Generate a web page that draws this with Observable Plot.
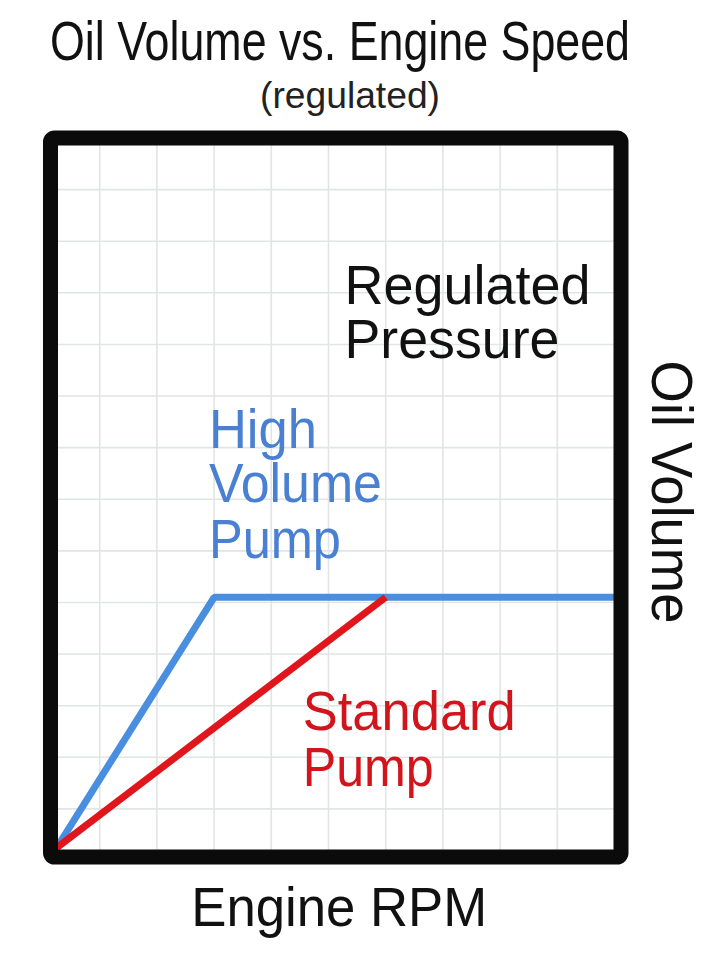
<!DOCTYPE html>
<html><head><meta charset="utf-8">
<script src="https://cdn.jsdelivr.net/npm/d3@7"></script>
<script src="https://cdn.jsdelivr.net/npm/@observablehq/plot@0.6"></script>
<style>
body{margin:0;background:#fff;font-family:"Liberation Sans",Arial,sans-serif;}
#header{position:relative;width:720px;height:120px;overflow:hidden;}
#header span{position:absolute;white-space:nowrap;transform-origin:0 0;}
#title{font-size:56px;line-height:56px;top:12.6px;color:#111;}
#subtitle{font-size:36px;line-height:36px;top:77.5px;color:#222;}
#chart svg{display:block}
</style></head><body>
<div id="header"><span id="title">Oil Volume vs. Engine Speed</span><span id="subtitle">(regulated)</span></div>
<div id="chart"></div>
<script>
// ---- data (arbitrary grid units: RPM along x, oil volume along y) ----
const seriesNames = ["High Volume Pump", "Standard Pump"];
const highRpm = [0.25, 3, 10];
const highVol = [0.25, 5.1, 5.1];
const stdRpm = [0.25, 6];
const stdVol = [0.25, 5.1];
const gridXTicks = [1, 2, 3, 4, 5, 6, 7, 8, 9];
const gridYTicks = [1, 2, 3, 4, 5, 6, 7, 8, 9, 10, 11, 12, 13];

const highData = highRpm.map((r, i) => ({rpm: r, vol: highVol[i], series: seriesNames[0]}));
const stdData = stdRpm.map((r, i) => ({rpm: r, vol: stdVol[i], series: seriesNames[1]}));

const BLUE = "#4a8ee0", RED = "#e0161c", BLUE_T = "#4a80d2", RED_T = "#d2141c", BLACK = "#111";

const annotations = [
  {text: "Regulated", x: 5.28, y: 10.79, color: BLACK, fs: 55, rot: 0, len: 246},
  {text: "Pressure", x: 5.28, y: 9.73, color: BLACK, fs: 55, rot: 0, len: 215},
  {text: "High", x: 2.91, y: 8.0, color: BLUE_T, fs: 55, rot: 0, len: 108},
  {text: "Volume", x: 2.91, y: 6.94, color: BLUE_T, fs: 55, rot: 0, len: 173},
  {text: "Pump", x: 2.91, y: 5.87, color: BLUE_T, fs: 55, rot: 0, len: 132},
  {text: "Standard", x: 4.55, y: 2.52, color: RED_T, fs: 55, rot: 0, len: 213},
  {text: "Pump", x: 4.55, y: 1.45, color: RED_T, fs: 55, rot: 0, len: 131},
  {text: "Engine RPM", x: 2.6, y: -1.26, color: BLACK, fs: 55, rot: 0, len: 296},
  {text: "Oil Volume", x: 10.66, y: 9.69, color: BLACK, fs: 58, rot: 90, len: 263}
];

const chart = Plot.plot({
  width: 720, height: 843,
  marginTop: 17.5, marginBottom: 106.5, marginLeft: 50, marginRight: 99.5,
  x: {domain: [0, 10], range: [42, 614], axis: null},
  y: {domain: [0, 14], range: [740, 17.5], axis: null},
  color: {type: "identity"},
  marks: [
    Plot.ruleX(gridXTicks, {stroke: "#e1e5e5", strokeWidth: 1.6}),
    Plot.ruleY(gridYTicks, {stroke: "#e1e5e5", strokeWidth: 1.6}),
    Plot.line(highData, {x: "rpm", y: "vol", stroke: BLUE, strokeWidth: 7, strokeLinejoin: "miter", strokeLinecap: "butt"}),
    Plot.line(stdData, {x: "rpm", y: "vol", stroke: RED, strokeWidth: 7, strokeLinejoin: "miter", strokeLinecap: "butt"}),
    Plot.frame({stroke: "#0b0b0b", strokeWidth: 15, rx: 4}),
    Plot.text(annotations, {
      x: "x", y: "y", text: "text", fill: "color", fontSize: "fs", rotate: "rot",
      textAnchor: "start", lineAnchor: "bottom",
      fontFamily: "Liberation Sans, Arial, sans-serif"
    })
  ]
});
document.getElementById("chart").appendChild(chart);

// condense labels to the reference's narrow lettering
const texts = Array.from(chart.querySelectorAll("text"));
let k = 0;
for (const t of texts) {
  if (k < annotations.length && t.textContent === annotations[k].text) {
    t.setAttribute("textLength", annotations[k].len);
    t.setAttribute("lengthAdjust", "spacingAndGlyphs");
    k++;
  }
}

function fitSpan(id, cx, w) {
  const el = document.getElementById(id);
  const nat = el.getBoundingClientRect().width;
  el.style.transform = `scaleX(${w / nat})`;
  el.style.left = (cx - w / 2) + "px";
}
fitSpan("title", 340, 580);
fitSpan("subtitle", 350, 180);
</script>
</body></html>
